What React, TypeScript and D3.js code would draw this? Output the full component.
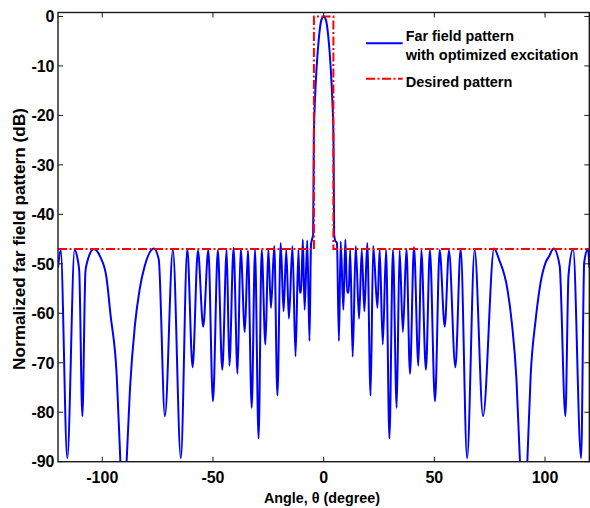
import React from "react";
import * as d3 from "d3";

// ---- data ----
const patternAngles: number[] = [
  -120, -118.8, -115.8, -112.5, -111.3, -110.4, -109.0, -107.6, -106.9, -103.8,
  -100.8, -98.1, -96.3, -93.5, -91.8, -90.4, -89.0, -87.5, -85.3, -83.1, -80.8,
  -76.7, -74.5, -71.7, -68.1, -64.5, -61.6, -59.2, -56.8, -54.4, -52.1, -50.0,
  -47.8, -45.8, -43.8, -42.6, -40.7, -38.9, -37.5, -35.6, -34.2, -32.5, -31.0,
  -29.4, -28.0, -26.3, -25.0, -23.8, -22.3, -20.9, -19.4, -18.1, -16.9, -15.7,
  -14.1, -12.7, -11.4, -10.8, -10.2, -9.4, -8.6, -7.4, -6.4, -5.7, -5.2, -4.75,
  -4.45, -3.93, -3.16, -2.1, -1.05, 0, 1.05, 2.1, 3.16, 3.93, 4.45, 4.75, 5.2,
  6.0, 6.9, 7.7, 8.9, 9.8, 10.6, 11.3, 12.0, 13.1, 14.5, 16.0, 17.2, 18.4, 19.7,
  21.2, 22.4, 24.3, 25.3, 26.7, 28.2, 29.7, 31.3, 33.0, 34.3, 35.8, 37.4, 39.0,
  40.8, 42.8, 44.1, 46.2, 48.0, 50.3, 52.4, 54.7, 56.6, 59.5, 61.9, 64.8, 68.2,
  72.0, 77.0, 79.2, 83.0, 85.0, 87.1, 88.7, 90.3, 92.0, 93.5, 95.8, 98.0, 100.3,
  101.8, 103.9, 106.6, 109.2, 110.6, 112.7, 116.3, 117.7, 119.4, 120,
];
const patternDb: number[] = [
  -50.8, -47.2, -89.3, -47.2, -48.7, -51.5, -80.8, -51.5, -49.8, -47.0,
  -48.7, -52.8, -60.2, -72.4, -90.3, -105, -90.0, -75.4, -62.6, -55.1, -50.4,
  -46.9, -49.1, -80.8, -47.2, -89.3, -47.0, -70.9, -47.3, -62.7, -47.2, -77.8,
  -47.2, -71.4, -47.2, -70.6, -46.8, -72.2, -47.0, -63.8, -47.3, -79.1, -47.2,
  -85.3, -47.2, -66.3, -47.0, -58.9, -46.4, -76.6, -45.8, -59.6, -47.2, -61.1,
  -46.4, -68.7, -47.2, -55.8, -55.8, -45.1, -59.3, -45.3, -65.6, -46.0, -45.0, -44.0,
  -25.0, -17.0, -10.2, -4.1, -0.75, 0, -0.75, -4.1, -10.2, -17.0, -25.0, -44.0, -45.3,
  -45.8, -65.6, -45.5, -59.3, -45.1, -55.8, -55.8, -47.2, -68.8, -46.4, -61.1, -47.2, -59.6, -45.8,
  -76.6, -46.4, -58.9, -47.0, -66.3, -47.2, -85.3, -47.2, -79.1, -47.3, -63.8, -47.0, -72.2,
  -46.6, -70.6, -47.2, -71.4, -47.2, -77.8, -47.2, -62.7, -47.3, -70.9, -47.0, -89.3, -47.2,
  -80.8, -46.9, -49.1, -55.1, -61.9, -73.4, -90.3, -105, -90.0, -72.7, -61.2, -53.8, -49.7,
  -48.5, -46.9, -50.4, -80.8, -52.4, -47.0, -89.3, -49.7, -47.0, -50.8,
];

const desiredAngles: number[] = [-120, -4.4, -4.4, 4.4, 4.4, 120];
const desiredDb: number[] = [-47, -47, 0, 0, -47, -47];

const xTicks: number[] = [-100, -50, 0, 50, 100];
const yTicks: number[] = [0, -10, -20, -30, -40, -50, -60, -70, -80, -90];

const legendLabels: string[][] = [
  ["Far field pattern", "with optimized excitation"],
  ["Desired pattern"],
];
const xTitle = "Angle, \u03b8 (degree)";
const yTitle = "Normalized far field pattern (dB)";

// ---- layout ----
const W = 590;
const H = 508;
const left = 58;
const right = 589.3;
const top = 12.5;
const bottom = 461.7;
const FONT = "'Liberation Sans', Arial, Helvetica, sans-serif";

export default function App() {
  const x = d3.scaleLinear().domain([-120, 120]).range([left, right]);
  const y = d3.scaleLinear().domain([-90, 0.8]).range([bottom, top]);

  const line = d3
    .line<[number, number]>()
    .x((d) => x(d[0]))
    .y((d) => y(d[1]))
    .curve(d3.curveMonotoneX);
  const lineLin = d3
    .line<[number, number]>()
    .x((d) => x(d[0]))
    .y((d) => y(d[1]));

  const pattern: [number, number][] = patternAngles.map((a, i) => [a, patternDb[i]]);
  const desired: [number, number][] = desiredAngles.map((a, i) => [a, desiredDb[i]]);

  const tickLen = 5;
  const axisColor = "#1a1a1a";
  const dash = "9 2.5 2 2.5";

  return (
    <svg width={W} height={H} style={{ position: "absolute", left: 0, top: 0 }}>
      <rect x={0} y={0} width={W} height={H} fill="#fff" />
      <defs>
        <clipPath id="plotClip">
          <rect x={left} y={top} width={right - left} height={bottom - top} />
        </clipPath>
      </defs>

      <g clipPath="url(#plotClip)">
        <path d={line(pattern) || ""} fill="none" stroke="#0000ff" strokeWidth={2} strokeLinejoin="round" />
        <path d={lineLin(desired) || ""} fill="none" stroke="#ff0000" strokeWidth={2} strokeDasharray={dash} />
      </g>

      {/* axes box */}
      <rect x={left} y={top} width={right - left} height={bottom - top} fill="none" stroke={axisColor} strokeWidth={1.4} />

      {/* x ticks */}
      {xTicks.map((t) => (
        <g key={"x" + t}>
          <line x1={x(t)} x2={x(t)} y1={bottom} y2={bottom - tickLen} stroke={axisColor} strokeWidth={1} />
          <line x1={x(t)} x2={x(t)} y1={top} y2={top + tickLen} stroke={axisColor} strokeWidth={1} />
          <text x={x(t)} y={483.3} textAnchor="middle" fontFamily={FONT} fontWeight="bold" fontSize={16} fill="#000">
            {t}
          </text>
        </g>
      ))}

      {/* y ticks */}
      {yTicks.map((t) => (
        <g key={"y" + t}>
          <line x1={left} x2={left + tickLen} y1={y(t)} y2={y(t)} stroke={axisColor} strokeWidth={1} />
          <line x1={right} x2={right - tickLen} y1={y(t)} y2={y(t)} stroke={axisColor} strokeWidth={1} />
          <text x={54.5} y={y(t)} dy="0.36em" textAnchor="end" fontFamily={FONT} fontWeight="bold" fontSize={16} fill="#000">
            {t}
          </text>
        </g>
      ))}

      {/* axis titles */}
      <text x={264} y={503.3} textLength={116} lengthAdjust="spacingAndGlyphs" fontFamily={FONT} fontWeight="bold" fontSize={15.5} fill="#000">
        {xTitle}
      </text>
      <text
        transform="translate(25,370) rotate(-90)"
        x={0}
        y={0}
        textLength={262}
        lengthAdjust="spacingAndGlyphs"
        fontFamily={FONT}
        fontWeight="bold"
        fontSize={16.5}
        fill="#000"
      >
        {yTitle}
      </text>

      {/* legend */}
      <line x1={366} x2={402.7} y1={43.3} y2={43.3} stroke="#0000ff" strokeWidth={2} />
      <text x={405.7} y={40.7} textLength={108.3} lengthAdjust="spacingAndGlyphs" fontFamily={FONT} fontWeight="bold" fontSize={15.5} fill="#000">
        {legendLabels[0][0]}
      </text>
      <text x={405.7} y={60} textLength={172.7} lengthAdjust="spacingAndGlyphs" fontFamily={FONT} fontWeight="bold" fontSize={15.5} fill="#000">
        {legendLabels[0][1]}
      </text>
      <line x1={366} x2={402.7} y1={78.7} y2={78.7} stroke="#ff0000" strokeWidth={2} strokeDasharray={dash} />
      <text x={405.7} y={86.7} textLength={106.7} lengthAdjust="spacingAndGlyphs" fontFamily={FONT} fontWeight="bold" fontSize={15.5} fill="#000">
        {legendLabels[1][0]}
      </text>
    </svg>
  );
}
